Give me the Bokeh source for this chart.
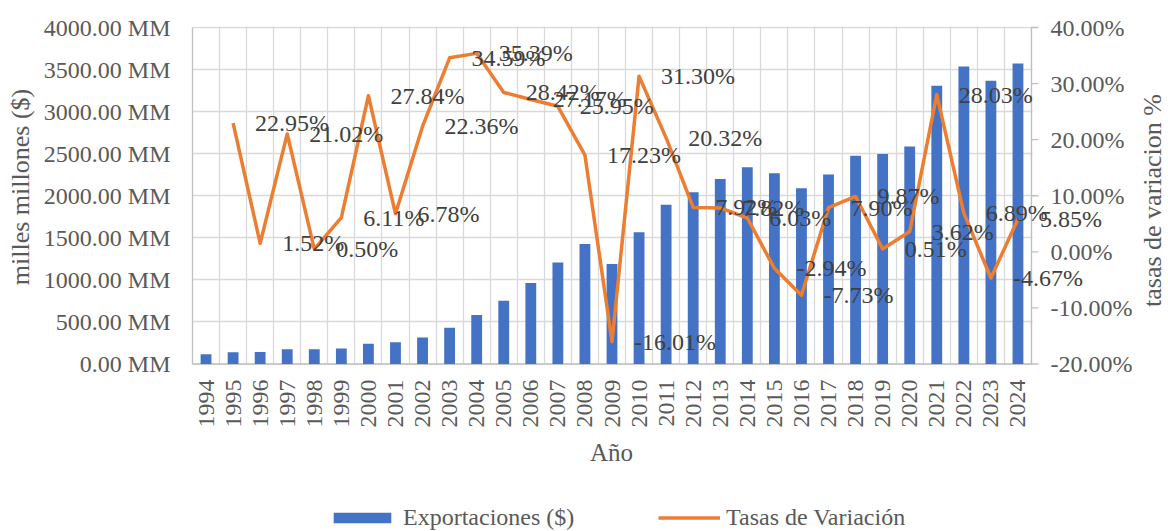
from math import pi
from bokeh.plotting import figure
from bokeh.layouts import column
from bokeh.models import (Range1d, FixedTicker, PrintfTickFormatter, BoxAnnotation,
                          Legend, LegendItem, Label, ColumnDataSource)
from bokeh.core.properties import value
from bokeh.embed import file_html
from bokeh.resources import INLINE

# ---------------- data ----------------
years = ["1994", "1995", "1996", "1997", "1998", "1999", "2000", "2001", "2002", "2003",
         "2004", "2005", "2006", "2007", "2008", "2009", "2010", "2011", "2012", "2013",
         "2014", "2015", "2016", "2017", "2018", "2019", "2020", "2021", "2022", "2023", "2024"]

exports_mm = [115, 141, 143, 175, 176, 185, 240, 258, 316, 432,
              583, 752, 962, 1208, 1425, 1190, 1565, 1894, 2043, 2200,
              2338, 2267, 2089, 2252, 2476, 2496, 2584, 3308, 3537, 3367, 3572]

rate_years = years[1:]
rates_pct = [22.95, 1.52, 21.02, 0.50, 6.11, 27.84, 6.78, 22.36, 34.59, 35.39,
             28.42, 27.17, 25.95, 17.23, -16.01, 31.30, 20.32, 7.92, 7.82, 6.03,
             -2.94, -7.73, 7.90, 9.87, 0.51, 3.62, 28.03, 6.89, -4.67, 5.85]

left_ticks = [0, 500, 1000, 1500, 2000, 2500, 3000, 3500, 4000]
right_ticks = [-20, -10, 0, 10, 20, 30, 40]

# ---------------- styling ----------------
FONT = "Liberation Serif"
TICK_COLOR = "#595959"
LABEL_COLOR = "#404040"
GRID = "#d9d9d9"
AXIS = "#bfbfbf"
BLUE = "#4472C4"
ORANGE = "#ED7D31"

# ---------------- geometry (pixels) ----------------
W, H_MAIN, H_LEG = 1168, 430, 101
FRAME_L, FRAME_T, FRAME_B = 192, 0, 373          # drawing frame (extends right to W)
PLOT_TOP, PLOT_BOT, PLOT_R = 27.0, 363.5, 1031.0  # visible chart box
n = len(years)
cat_px = (PLOT_R - FRAME_L) / n
x_end = -0.5 + (W - FRAME_L) / cat_px
mm_px = (PLOT_BOT - PLOT_TOP) / (left_ticks[-1] - left_ticks[0])
pct_px = (PLOT_BOT - PLOT_TOP) / (right_ticks[-1] - right_ticks[0])
y_lo = left_ticks[0] - (FRAME_B - PLOT_BOT) / mm_px
y_hi = left_ticks[-1] + (PLOT_TOP - FRAME_T) / mm_px
p_lo = right_ticks[0] - (FRAME_B - PLOT_BOT) / pct_px
p_hi = right_ticks[-1] + (PLOT_TOP - FRAME_T) / pct_px
x_last = n - 0.5

x_idx = list(range(n))
rate_idx = [years.index(y) for y in rate_years]

bar_src = ColumnDataSource(dict(x=x_idx, year=years, value=exports_mm))
rate_src = ColumnDataSource(dict(x=rate_idx, year=rate_years, rate=rates_pct,
                                 txt=["%.2f%%" % r for r in rates_pct]))

p = figure(width=W, height=H_MAIN, output_backend="svg", toolbar_location=None,
           x_range=Range1d(-0.5, x_end), y_range=Range1d(y_lo, y_hi),
           min_border_left=FRAME_L, min_border_right=0, min_border_top=FRAME_T,
           min_border_bottom=H_MAIN - FRAME_B)
p.outline_line_color = None
p.background_fill_color = "white"
p.border_fill_color = "white"
p.extra_y_ranges = {"pct": Range1d(p_lo, p_hi)}

# grids
p.xgrid.ticker = FixedTicker(ticks=[i - 0.5 for i in range(n + 1)])
p.xgrid.grid_line_color = GRID
p.xgrid.grid_line_width = 1.3
p.ygrid.ticker = FixedTicker(ticks=left_ticks)
p.ygrid.grid_line_color = GRID
p.ygrid.grid_line_width = 1.3
# keep grid inside the chart box
p.add_layout(BoxAnnotation(bottom=left_ticks[-1] + 1.0 / mm_px, fill_color="white",
                           fill_alpha=1, line_color=None, level="underlay"))
p.add_layout(BoxAnnotation(top=left_ticks[0] - 1.0 / mm_px, fill_color="white",
                           fill_alpha=1, line_color=None, level="underlay"))
p.add_layout(BoxAnnotation(left=x_last + 1.0 / cat_px, fill_color="white",
                           fill_alpha=1, line_color=None, level="underlay"))

# x axis
xa = p.xaxis[0]
xa.ticker = FixedTicker(ticks=x_idx)
xa.major_label_overrides = {i: y for i, y in zip(x_idx, years)}
xa.major_label_orientation = pi / 2
xa.major_tick_line_color = None
xa.minor_tick_line_color = None
xa.axis_line_color = None
xa.major_label_text_font = FONT
xa.major_label_text_font_size = "24px"
xa.major_label_text_color = TICK_COLOR
xa.major_label_standoff = 0

# left axis
ya = p.yaxis[0]
ya.ticker = FixedTicker(ticks=left_ticks)
ya.formatter = PrintfTickFormatter(format="%.2f MM")
ya.bounds = (left_ticks[0], left_ticks[-1])
ya.major_tick_line_color = None
ya.minor_tick_line_color = None
ya.axis_line_color = AXIS
ya.axis_line_width = 1.3
ya.major_label_text_font = FONT
ya.major_label_text_font_size = "24px"
ya.major_label_text_color = TICK_COLOR
ya.major_label_standoff = 16
ya.axis_label = "milles millones ($)"
ya.axis_label_text_font = FONT
ya.axis_label_text_font_size = "26px"
ya.axis_label_text_font_style = "normal"
ya.axis_label_text_color = TICK_COLOR
ya.axis_label_standoff = 6

# bottom axis line
p.segment(x0=[-0.5], x1=[x_last], y0=[0], y1=[0], line_color=AXIS, line_width=1.3)

# bars
bars = p.vbar(x="x", top="value", width=0.4, source=bar_src,
              fill_color=BLUE, line_color=None)

# right (percentage) axis, drawn on the pct scale
p.segment(x0=[x_last], x1=[x_last], y0=[right_ticks[0]], y1=[right_ticks[-1]],
          y_range_name="pct", line_color=AXIS, line_width=1.3)
p.ray(x=[x_last] * len(right_ticks), y=right_ticks, length=7, length_units="screen",
      angle=0, y_range_name="pct", line_color=AXIS, line_width=1.3)
p.text(x=[x_last] * len(right_ticks), y=right_ticks,
       text=["%.2f%%" % t for t in right_ticks], y_range_name="pct",
       x_offset=19, text_align="left", text_baseline="middle",
       text_font=value(FONT), text_font_size="24px", text_color=TICK_COLOR)

# line
line = p.line(x="x", y="rate", source=rate_src, y_range_name="pct",
              line_color=ORANGE, line_width=3.5, line_join="round")

# data labels
p.text(x="x", y="rate", text="txt", source=rate_src, y_range_name="pct",
       x_offset=22, text_align="left", text_baseline="middle",
       text_font=value(FONT), text_font_size="24px", text_color=LABEL_COLOR)

# right axis title (reads bottom to top)
p.add_layout(Label(x=1152 - FRAME_L, y=FRAME_B - 200, x_units="screen", y_units="screen",
                   text="tasas de variacion %", angle=pi / 2,
                   text_align="center", text_baseline="middle",
                   text_font=FONT, text_font_size="26px", text_color=TICK_COLOR))

# ---------------- x title + legend strip ----------------
lg = figure(width=W, height=H_LEG, output_backend="svg", toolbar_location=None,
            x_range=Range1d(0, 1), y_range=Range1d(0, 1),
            x_axis_type=None, y_axis_type=None,
            min_border=0, min_border_left=0, min_border_right=0,
            min_border_top=0, min_border_bottom=0)
lg.outline_line_color = None
lg.xgrid.visible = False
lg.ygrid.visible = False
lg_bar = lg.vbar(x=[5], top=[5], width=0.4, fill_color=BLUE, line_color=None)
lg_line = lg.line(x=[5, 6], y=[5, 5], line_color=ORANGE, line_width=3.5)

lg.add_layout(Label(x=611 - FRAME_L, y=H_LEG - (452 - H_MAIN), x_units="screen",
                    y_units="screen", text="Año", text_align="center",
                    text_baseline="middle", text_font=FONT, text_font_size="25px",
                    text_color=TICK_COLOR))

leg_common = dict(orientation="horizontal", padding=0, margin=0,
                  border_line_color=None, background_fill_alpha=0,
                  label_text_font=FONT, label_text_font_size="24px",
                  label_text_color=TICK_COLOR)
legend_bar = Legend(items=[LegendItem(label="Exportaciones ($)", renderers=[lg_bar])],
                    location=(326 - FRAME_L, 0), glyph_width=72, glyph_height=13,
                    label_standoff=5, **leg_common)
legend_line = Legend(items=[LegendItem(label="Tasas de Variación", renderers=[lg_line])],
                     location=(658 - FRAME_L, 0), glyph_width=62, glyph_height=13,
                     label_standoff=6, **leg_common)
lg.add_layout(legend_bar)
lg.add_layout(legend_line)

layout = column(p, lg, spacing=0)
open("out.html", "w").write(file_html(layout, INLINE))
